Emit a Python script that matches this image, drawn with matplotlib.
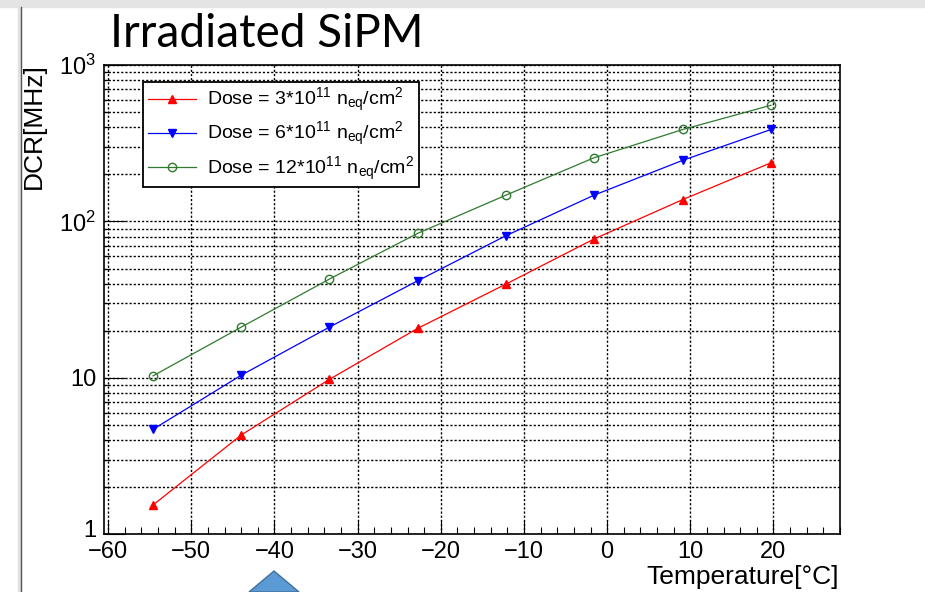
import matplotlib
matplotlib.use('Agg')
from matplotlib import pyplot as plt
from matplotlib.patches import Polygon, Rectangle
from matplotlib.lines import Line2D
from matplotlib.transforms import ScaledTranslation
from matplotlib.ticker import FixedLocator, MultipleLocator, NullFormatter

plt.rcParams['font.family'] = ['Liberation Sans', 'DejaVu Sans']
plt.rcParams['mathtext.fontset'] = 'custom'
plt.rcParams['mathtext.rm'] = 'Liberation Sans'
plt.rcParams['mathtext.it'] = 'Liberation Sans:italic'
plt.rcParams['mathtext.bf'] = 'Liberation Sans:bold'

# values
temps = [-54.6, -44.0, -33.4, -22.8, -12.2, -1.6, 9.1, 19.7]
dcr_dose3 = [1.54, 4.31, 9.78, 20.7, 39.7, 77.1, 138, 237]
dcr_dose6 = [4.69, 10.4, 21.1, 41.7, 80.9, 147, 246, 387]
dcr_dose12 = [10.3, 21.1, 42.8, 83.8, 147, 255, 387, 553]

labels = ['Dose = 3*10$^{11}$ n$_{\\mathrm{eq}}$/cm$^{2}$',
          'Dose = 6*10$^{11}$ n$_{\\mathrm{eq}}$/cm$^{2}$',
          'Dose = 12*10$^{11}$ n$_{\\mathrm{eq}}$/cm$^{2}$']

xticks = [-60, -50, -40, -30, -20, -10, 0, 10, 20]
yticks = [1, 10, 100, 1000]
ytick_labels = ['1', '10', '$10^{2}$', '$10^{3}$']

W, H = 925, 592
fig = plt.figure(figsize=(W / 100, H / 100), dpi=100)

# slide decorations
fig.patches.append(Rectangle((0, 1 - 7 / H), 1, 7 / H, transform=fig.transFigure,
                             color='#e4e4e4', zorder=0))
fig.add_artist(Line2D([19 / W, 19 / W], [0, 1 - 7 / H], transform=fig.transFigure,
                      color='#e2e2e2', lw=2.5))
fig.add_artist(Line2D([21 / W, 21 / W], [0, 1 - 7 / H], transform=fig.transFigure,
                      color='#555555', lw=1.0))
arrow = [(249 / W, 0), (274 / W, 1 - 571 / H), (299 / W, 0)]
fig.patches.append(Polygon(arrow, closed=True, transform=fig.transFigure,
                           facecolor='#5b9bd5', edgecolor='#41719c', lw=1.0))

ax = fig.add_axes([104 / W, (H - 534.3) / H, 736 / W, 469.3 / H])

ax.plot(temps, dcr_dose3, color='#ff0000', lw=0.9, marker='^', ms=6,
        label=labels[0])
ax.plot(temps, dcr_dose6, color='#0000ff', lw=0.9, marker='v', ms=6,
        label=labels[1])
ax.plot(temps, dcr_dose12, color='#2f7a2f', lw=0.9, marker='o', ms=6,
        mfc='none', mew=1.0, label=labels[2])

ax.set_yscale('log')
ax.set_xlim(-60.5, 28)
ax.set_ylim(1, 1000)

ax.xaxis.set_major_locator(FixedLocator(xticks))
ax.xaxis.set_minor_locator(MultipleLocator(2))
ax.set_xticklabels([str(t).replace('-', '\u2212') for t in xticks], fontsize=17)
ax.yaxis.set_major_locator(FixedLocator(yticks))
ax.set_yticklabels(ytick_labels, fontsize=17)
ax.yaxis.set_minor_formatter(NullFormatter())

ax.tick_params(axis='x', which='major', direction='in', length=9.5, width=0.8, pad=5,
               top=False)
ax.tick_params(axis='x', which='minor', direction='in', length=4.8, width=0.8, top=False)
ax.tick_params(axis='y', which='major', direction='in', length=15, width=0.8, pad=5.5,
               right=False)
ax.tick_params(axis='y', which='minor', direction='in', length=3.5, width=0.8, right=False)

# lift the "1" a little so it clears the -60 below it
lbl = ax.get_yticklabels()[0]
lbl.set_transform(lbl.get_transform() + ScaledTranslation(0, 4 / 72, fig.dpi_scale_trans))

dots = (0, (1.6, 1.4))
ax.grid(True, axis='x', which='major', color='black', ls=dots, lw=1.0)
ax.grid(True, axis='y', which='both', color='black', ls=dots, lw=1.0)
ax.set_axisbelow(True)

for s in ax.spines.values():
    s.set_linewidth(1.2)

leg = ax.legend(loc='upper left', bbox_to_anchor=(0.0534, 0.9644), fontsize=14,
                frameon=True, fancybox=False, framealpha=1, edgecolor='black',
                borderpad=0.23, labelspacing=0.31, handlelength=2.5,
                handletextpad=0.55, borderaxespad=0)
leg.get_frame().set_linewidth(1.3)

fig.text(34 / W, 1 - 63 / H, 'DCR[MHz]', rotation=90, ha='center', va='top', fontsize=19)
fig.text(839 / W, 1 - 577 / H, 'Temperature[\u00b0C]', ha='right', va='center', fontsize=19)
fig.text(110 / W, 1 - 47 / H, 'Irradiated SiPM', ha='left', va='baseline', fontsize=33,
         family=['Lato', 'DejaVu Sans'])

fig.savefig('out.png', dpi=100)
